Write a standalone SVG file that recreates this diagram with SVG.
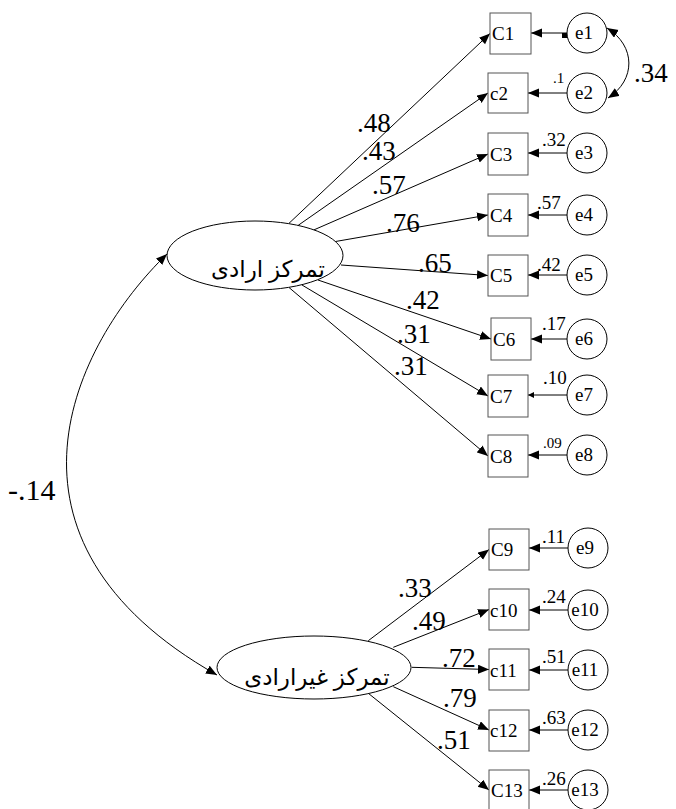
<svg xmlns="http://www.w3.org/2000/svg" width="676" height="809" viewBox="0 0 676 809" font-family="'Liberation Serif', 'Times New Roman', 'DejaVu Serif', serif">
<style>
.box{fill:#fff;stroke:#555;stroke-width:1}
.err{fill:#fff;stroke:#000;stroke-width:1}
.lat{fill:#fff;stroke:#000;stroke-width:1}
.ln{fill:none;stroke:#000;stroke-width:1}
.bt{font-size:19px;fill:#000}
.et{font-size:19px;fill:#000;text-anchor:middle}
.big{font-size:27px;fill:#000}
.sm{font-size:19px;fill:#000}
.fa{font-size:23px;fill:#000;text-anchor:middle}
</style>
<defs>
<marker id="ah" markerUnits="userSpaceOnUse" markerWidth="12" markerHeight="10" refX="11" refY="4.5" orient="auto-start-reverse">
<path d="M0,0 L11,4.5 L0,9 z" fill="#000"/>
</marker>
<marker id="ahs" markerUnits="userSpaceOnUse" markerWidth="8" markerHeight="8" refX="6" refY="3" orient="auto">
<path d="M0,0 L6,3 L0,6 z" fill="#000"/>
</marker>
</defs>
<rect width="676" height="809" fill="#fff"/>

<g id="connectors">
<line class="ln" x1="288.7" y1="223.6" x2="490" y2="33.5" marker-end="url(#ah)"/>
<line class="ln" x1="298.1" y1="225.4" x2="488" y2="93" marker-end="url(#ah)"/>
<line class="ln" x1="313.9" y1="229.9" x2="488" y2="154" marker-end="url(#ah)"/>
<line class="ln" x1="335.5" y1="241.5" x2="488" y2="215" marker-end="url(#ah)"/>
<line class="ln" x1="341" y1="265" x2="488" y2="275.5" marker-end="url(#ah)"/>
<line class="ln" x1="318" y1="280" x2="491" y2="339" marker-end="url(#ah)"/>
<line class="ln" x1="302" y1="285" x2="488" y2="396" marker-end="url(#ah)"/>
<line class="ln" x1="289" y1="287.5" x2="488" y2="456" marker-end="url(#ah)"/>
<line class="ln" x1="368.3" y1="640.7" x2="489" y2="549.5" marker-end="url(#ah)"/>
<line class="ln" x1="393.3" y1="647.3" x2="489" y2="609.5" marker-end="url(#ah)"/>
<line class="ln" x1="411.7" y1="667.3" x2="489" y2="669.5" marker-end="url(#ah)"/>
<line class="ln" x1="393.3" y1="686.7" x2="489" y2="730" marker-end="url(#ah)"/>
<line class="ln" x1="368.3" y1="693.3" x2="489" y2="790" marker-end="url(#ah)"/>
<line class="ln" x1="567" y1="33" x2="531" y2="33" marker-end="url(#ah)"/>
<line class="ln" x1="567" y1="93" x2="528" y2="93" marker-end="url(#ah)"/>
<line class="ln" x1="567" y1="153" x2="528" y2="153" marker-end="url(#ah)"/>
<line class="ln" x1="567" y1="215" x2="528" y2="215" marker-end="url(#ah)"/>
<line class="ln" x1="567" y1="275" x2="528" y2="275" marker-end="url(#ah)"/>
<line class="ln" x1="567" y1="339" x2="531" y2="339" marker-end="url(#ah)"/>
<line class="ln" x1="567" y1="395" x2="528" y2="395" marker-end="url(#ahs)"/>
<line class="ln" x1="567" y1="455" x2="528" y2="455" marker-end="url(#ah)"/>
<line class="ln" x1="568" y1="548" x2="529" y2="548" marker-end="url(#ah)"/>
<line class="ln" x1="568" y1="610" x2="529" y2="610" marker-end="url(#ah)" stroke="#555"/>
<line class="ln" x1="568" y1="670" x2="529" y2="670" marker-end="url(#ah)"/>
<line class="ln" x1="568" y1="730" x2="529" y2="730" marker-end="url(#ah)"/>
<line class="ln" x1="568" y1="790" x2="529" y2="790" marker-end="url(#ah)"/>
<rect x="562" y="33" width="5" height="5" fill="#000"/>
<path class="ln" d="M607,28 C636,46 636,80 608,98" marker-start="url(#ah)" marker-end="url(#ah)"/>
<path class="ln" d="M167,254 C74,344 -23,539 217,675" marker-start="url(#ah)" marker-end="url(#ah)"/>
</g>

<g id="f1">
<ellipse class="lat" cx="255" cy="255.5" rx="88" ry="34.5"/>
<text class="fa" x="268" y="277" font-family="'Liberation Serif', 'DejaVu Sans', serif">تمرکز ارادی</text>
</g>
<g id="f2">
<ellipse class="lat" cx="314" cy="667.5" rx="97" ry="31.5"/>
<text class="fa" x="317" y="685" font-family="'Liberation Serif', 'DejaVu Sans', serif">تمرکز غیرارادی</text>
</g>

<g id="C1"><rect class="box" x="490" y="13" width="41" height="41"/><text class="bt" x="492" y="40">C1</text></g>
<g id="c2"><rect class="box" x="488" y="73" width="40" height="40"/><text class="bt" x="490" y="100">c2</text></g>
<g id="C3"><rect class="box" x="488" y="133" width="40" height="42"/><text class="bt" x="490" y="161">C3</text></g>
<g id="C4"><rect class="box" x="488" y="194" width="40" height="42"/><text class="bt" x="490" y="222">C4</text></g>
<g id="C5"><rect class="box" x="488" y="255" width="40" height="41"/><text class="bt" x="490" y="282">C5</text></g>
<g id="C6"><rect class="box" x="491" y="318" width="40" height="42"/><text class="bt" x="493" y="346">C6</text></g>
<g id="C7"><rect class="box" x="488" y="375" width="40" height="42"/><text class="bt" x="490" y="403">C7</text></g>
<g id="C8"><rect class="box" x="488" y="435" width="40" height="42"/><text class="bt" x="490" y="463">C8</text></g>
<g id="C9"><rect class="box" x="489" y="529" width="40" height="41"/><text class="bt" x="491" y="556">C9</text></g>
<g id="c10"><rect class="box" x="489" y="589" width="40" height="41"/><text class="bt" x="490" y="617">c10</text></g>
<g id="c11"><rect class="box" x="489" y="649" width="40" height="41"/><text class="bt" x="490" y="677">c11</text></g>
<g id="c12"><rect class="box" x="489" y="710" width="40" height="41"/><text class="bt" x="490" y="737">c12</text></g>
<g id="C13"><rect class="box" x="489" y="770" width="40" height="41"/><text class="bt" x="491" y="797">C13</text></g>

<g id="e1"><circle class="err" cx="587" cy="33" r="20"/><text class="et" x="584" y="39">e1</text></g>
<g id="e2"><circle class="err" cx="587" cy="93" r="20"/><text class="et" x="584" y="99">e2</text></g>
<g id="e3"><circle class="err" cx="587" cy="153" r="20"/><text class="et" x="584" y="159">e3</text></g>
<g id="e4"><circle class="err" cx="587" cy="215" r="20"/><text class="et" x="584" y="221">e4</text></g>
<g id="e5"><circle class="err" cx="587" cy="275" r="20"/><text class="et" x="584" y="281">e5</text></g>
<g id="e6"><circle class="err" cx="587" cy="339" r="20"/><text class="et" x="584" y="345">e6</text></g>
<g id="e7"><circle class="err" cx="587" cy="395" r="20"/><text class="et" x="584" y="401">e7</text></g>
<g id="e8"><circle class="err" cx="587" cy="455" r="20"/><text class="et" x="584" y="461">e8</text></g>
<g id="e9"><circle class="err" cx="588" cy="548" r="20"/><text class="et" x="585" y="554">e9</text></g>
<g id="e10"><circle class="err" cx="588" cy="610" r="20"/><text class="et" x="585" y="616">e10</text></g>
<g id="e11"><circle class="err" cx="588" cy="670" r="20"/><text class="et" x="585" y="676">e11</text></g>
<g id="e12"><circle class="err" cx="588" cy="730" r="20"/><text class="et" x="585" y="736">e12</text></g>
<g id="e13"><circle class="err" cx="588" cy="790" r="20"/><text class="et" x="585" y="796">e13</text></g>

<g id="labels">
<text class="big" x="357" y="132">.48</text>
<text class="big" x="362" y="160">.43</text>
<text class="big" x="372" y="194">.57</text>
<text class="big" x="386" y="232">.76</text>
<text class="big" x="418" y="272">.65</text>
<text class="big" x="406" y="309">.42</text>
<text class="big" x="397" y="343">.31</text>
<text class="big" x="394" y="375">.31</text>
<text class="big" x="398" y="597">.33</text>
<text class="big" x="412" y="630">.49</text>
<text class="big" x="442" y="667">.72</text>
<text class="big" x="443" y="707">.79</text>
<text class="big" x="437" y="749">.51</text>
<text class="big" x="634" y="82">.34</text>
<text class="big" x="8" y="500" style="font-size:30px">-.14</text>
<text class="sm" x="553" y="83" style="font-size:15px">.1</text>
<text class="sm" x="542" y="146">.32</text>
<text class="sm" x="537" y="209">.57</text>
<text class="sm" x="537" y="271">.42</text>
<text class="sm" x="542" y="330">.17</text>
<text class="sm" x="543" y="384">.10</text>
<text class="sm" x="543" y="448" style="font-size:15px">.09</text>
<text class="sm" x="542" y="543">.11</text>
<text class="sm" x="542" y="603">.24</text>
<text class="sm" x="542" y="663">.51</text>
<text class="sm" x="542" y="724">.63</text>
<text class="sm" x="542" y="785">.26</text>
</g>
</svg>
